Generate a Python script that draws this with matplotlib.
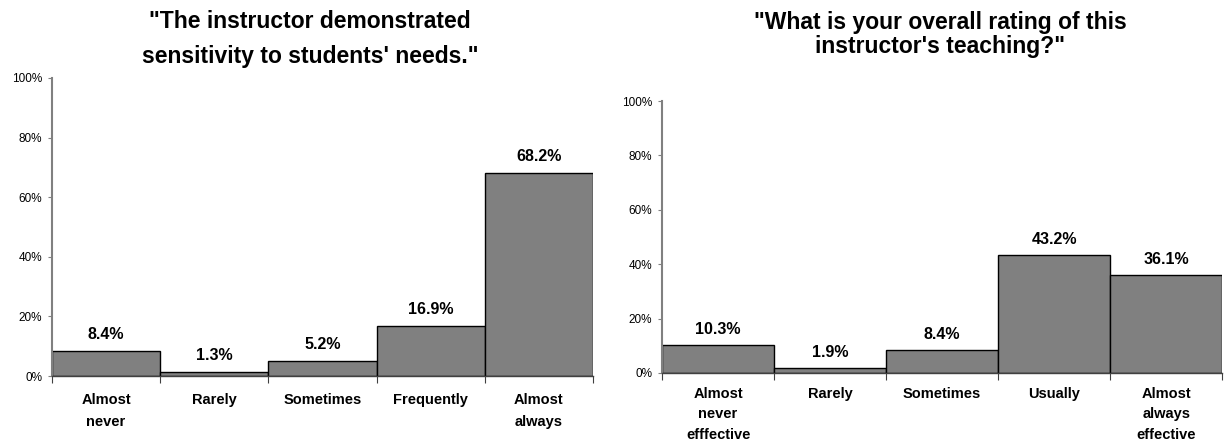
import numpy as np
import matplotlib
matplotlib.use("Agg")
import matplotlib.pyplot as plt

plt.rcParams['font.family'] = ['Liberation Sans', 'DejaVu Sans']

# survey results, percent of responses
left_title = '"The instructor demonstrated\nsensitivity to students\' needs."'
left_cats = ["Almost\nnever", "Rarely", "Sometimes", "Frequently", "Almost\nalways"]
left_vals = [8.4, 1.3, 5.2, 16.9, 68.2]

right_title = '"What is your overall rating of this\ninstructor\'s teaching?"'
right_cats = ["Almost\nnever\nefffective", "Rarely", "Sometimes", "Usually", "Almost\nalways\neffective"]
right_vals = [10.3, 1.9, 8.4, 43.2, 36.1]

yticks = [0, 20, 40, 60, 80, 100]


def draw(ax, cats, vals, lsp, pad):
    x = np.arange(len(vals))
    ax.bar(x, vals, width=1.0, color="#808080", edgecolor="black", linewidth=1.0, zorder=2)
    for xi, v in zip(x, vals):
        ax.text(xi, v + 3, f"{v:.1f}%", ha="center", va="bottom",
                fontsize=11.5, fontweight="bold")
    ax.set_xlim(-0.5, len(vals) - 0.5)
    ax.set_ylim(0, 100)
    ax.set_yticks(yticks)
    ax.set_yticklabels([f"{t}%" for t in yticks], fontsize=8.5)
    # ticks sit on category boundaries, labels in the middle
    ax.set_xticks(np.arange(len(vals) + 1) - 0.5)
    ax.set_xticklabels([])
    ax.set_xticks(x, minor=True)
    ax.set_xticklabels(cats, minor=True, fontsize=10.5, fontweight="bold",
                       linespacing=lsp, va="top")
    ax.tick_params(axis="x", which="minor", length=0, pad=pad)
    ax.tick_params(axis="x", which="major", length=5, color="#404040")
    ax.tick_params(axis="y", length=3, color="#808080", pad=4)
    for s in ["top", "right"]:
        ax.spines[s].set_visible(False)
    ax.spines["left"].set_color("#808080")
    ax.spines["left"].set_linewidth(1.5)
    ax.spines["bottom"].set_color("#404040")
    ax.spines["bottom"].set_linewidth(1.0)


fig = plt.figure(figsize=(12.26, 4.45), dpi=100)
ax1 = fig.add_axes([0.0424, 0.155, 0.4413, 0.670])
ax2 = fig.add_axes([0.540, 0.162, 0.457, 0.611])

draw(ax1, left_cats, left_vals, 1.75, 12)
draw(ax2, right_cats, right_vals, 1.6, 10)

fig.text(0.253, 0.977, left_title, ha="center", va="top",
         fontsize=16.5, fontweight="bold", linespacing=1.65)
fig.text(0.767, 0.976, right_title, ha="center", va="top",
         fontsize=16.5, fontweight="bold", linespacing=1.1)

fig.savefig("out.png", dpi=100)
